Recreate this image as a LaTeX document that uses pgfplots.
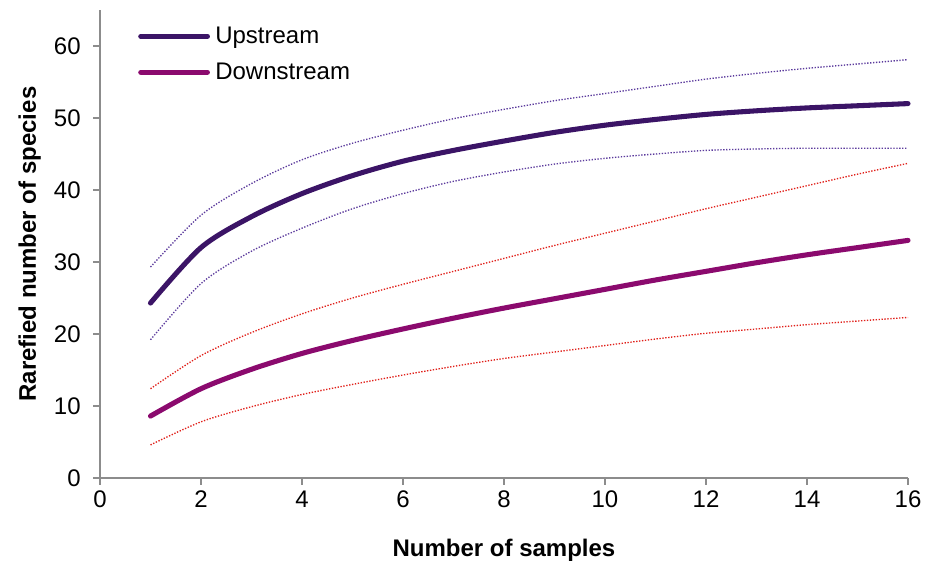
\documentclass[border=0pt]{standalone}
\usepackage{fontspec}
\setmainfont{Liberation Sans}
\usepackage{pgfplots}
\pgfplotsset{compat=1.18}
\definecolor{upc}{HTML}{3B1466}
\definecolor{dnc}{HTML}{8B0A6E}
\definecolor{updot}{HTML}{5B3A9C}
\definecolor{dndot}{HTML}{E0201A}
\definecolor{axgray}{HTML}{8C8C8C}
\begin{document}
\begin{tikzpicture}
\begin{axis}[
  scale only axis,
  width=606pt, height=351pt,
  xmin=0, xmax=16, ymin=0, ymax=65,
  xtick={0,2,...,16}, ytick={0,10,...,60},
  axis x line*=bottom, axis y line*=left,
  axis line style={axgray, line width=1.1pt},
  tick style={axgray, line width=1.1pt},
  tick align=outside, major tick length=5pt,
  tick label style={font=\fontsize{18}{21}\selectfont},
  yticklabel style={xshift=-6pt},
  xticklabel style={yshift=-1pt},
  /pgf/number format/assume math mode=true,
  xlabel={\textbf{Number of samples}},
  ylabel={\textbf{Rarefied number of species}},
  label style={font=\fontsize{18}{21}\selectfont},
  xlabel style={yshift=-17pt},
  ylabel style={yshift=3pt},
  legend style={draw=none, fill=none, at={(0.047,0.964)}, anchor=north west,
    font=\fontsize{18}{21}\selectfont, row sep=13pt, inner sep=0pt,
    nodes={inner sep=0pt}},
  legend cell align=left,
  legend image code/.code={\draw[#1, line cap=round] (0pt,0pt) -- (50pt,0pt);},
  clip=false,
]
\addplot[upc, line width=3.8pt, smooth, line cap=round] coordinates {
(1,24.3)(2,32.0)(3,36.3)(4,39.5)(5,42.0)(6,44.0)(7,45.5)(8,46.8)(9,48.0)(10,49.0)(11,49.8)(12,50.5)(13,51.0)(14,51.4)(15,51.7)(16,52.0)};
\addlegendentry{\hspace{4pt}Upstream}
\addplot[dnc, line width=3.8pt, smooth, line cap=round] coordinates {
(1,8.6)(2,12.4)(3,15.1)(4,17.3)(5,19.1)(6,20.7)(7,22.2)(8,23.6)(9,24.9)(10,26.2)(11,27.5)(12,28.7)(13,29.9)(14,31.0)(15,32.0)(16,33.0)};
\addlegendentry{\hspace{4pt}Downstream}
\addplot[updot, line width=1pt, dash pattern=on 1pt off 1.2pt, smooth, forget plot] coordinates {
(1,29.3)(2,36.5)(3,40.9)(4,44.2)(5,46.5)(6,48.3)(7,49.9)(8,51.2)(9,52.4)(10,53.4)(11,54.4)(12,55.4)(13,56.2)(14,56.9)(15,57.5)(16,58.1)};
\addplot[updot, line width=1pt, dash pattern=on 1pt off 1.2pt, smooth, forget plot] coordinates {
(1,19.2)(2,27.0)(3,31.5)(4,34.7)(5,37.4)(6,39.5)(7,41.2)(8,42.5)(9,43.6)(10,44.4)(11,45.0)(12,45.5)(13,45.7)(14,45.8)(15,45.8)(16,45.8)};
\addplot[dndot, line width=1pt, dash pattern=on 1pt off 1.2pt, smooth, forget plot] coordinates {
(1,12.4)(2,17.0)(3,20.2)(4,22.8)(5,25.0)(6,26.9)(7,28.7)(8,30.5)(9,32.3)(10,34.0)(11,35.7)(12,37.4)(13,39.0)(14,40.6)(15,42.2)(16,43.7)};
\addplot[dndot, line width=1pt, dash pattern=on 1pt off 1.2pt, smooth, forget plot] coordinates {
(1,4.6)(2,7.8)(3,9.9)(4,11.6)(5,13.0)(6,14.3)(7,15.5)(8,16.6)(9,17.5)(10,18.4)(11,19.3)(12,20.1)(13,20.7)(14,21.3)(15,21.8)(16,22.3)};
\end{axis}
\pgfresetboundingbox
\path (-75pt,-63.75pt) rectangle (621pt,358.5pt);
\end{tikzpicture}
\end{document}
